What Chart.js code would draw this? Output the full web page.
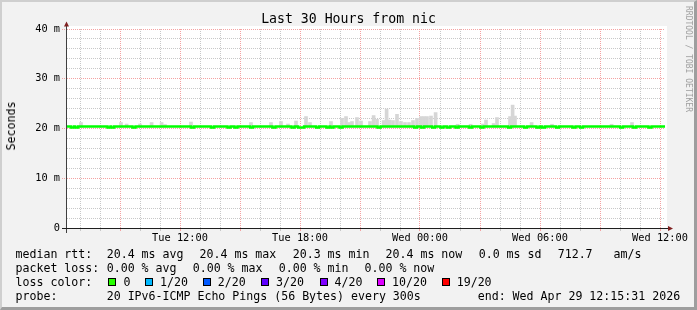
<!DOCTYPE html>
<html>
<head>
<meta charset="utf-8">
<script src="https://cdn.jsdelivr.net/npm/chart.js@4.4.1/dist/chart.umd.min.js"></script>
<style>
  html, body { margin: 0; padding: 0; }
  body {
    width: 697px; height: 310px; position: relative; overflow: hidden;
    background: #f2f2f2; color: #000;
    font-family: "DejaVu Sans Mono", monospace;
  }
  canvas { position: absolute; left: 0; top: 0; }
  #frame {
    position: absolute; left: 0; top: 0; width: 697px; height: 310px;
    box-sizing: border-box; pointer-events: none;
    border-style: solid; border-width: 2px 3px 3px 2px;
    border-color: #cfcfcf #9e9e9e #9e9e9e #cfcfcf;
  }
  .t { position: absolute; white-space: pre; line-height: 14px; }
  .lg { font-size: 11.6px; }
  .box {
    position: absolute; width: 6px; height: 6px; border: 1px solid #000;
  }
  #title { left: 0; width: 697px; top: 11px; text-align: center; font-size: 13.2px; line-height: 16px; }
  #ylabel { left: 11px; top: 126px; font-size: 11.6px; transform: translate(-50%, -50%) rotate(-90deg); }
  #credit { left: 688px; top: 59px; font-size: 8px; color: #a0a0a0; transform: translate(-50%, -50%) rotate(90deg); }
</style>
</head>
<body>
<canvas id="chart" width="697" height="310"></canvas>

<div class="t" id="title">Last 30 Hours from nic</div>
<div class="t" id="ylabel">Seconds</div>
<div class="t" id="credit">RRDTOOL / TOBI OETIKER</div>

<div class="t lg" style="left:15.5px;top:247px">median rtt:</div>
<div class="t lg" style="left:106.7px;top:247px">20.4 ms avg</div>
<div class="t lg" style="left:199.5px;top:247px">20.4 ms max</div>
<div class="t lg" style="left:292.7px;top:247px">20.3 ms min</div>
<div class="t lg" style="left:385.5px;top:247px">20.4 ms now</div>
<div class="t lg" style="left:478.7px;top:247px">0.0 ms sd</div>
<div class="t lg" style="left:557.7px;top:247px">712.7</div>
<div class="t lg" style="left:613.5px;top:247px">am/s</div>

<div class="t lg" style="left:15.5px;top:261px">packet loss:</div>
<div class="t lg" style="left:106.7px;top:261px">0.00 % avg</div>
<div class="t lg" style="left:192.7px;top:261px">0.00 % max</div>
<div class="t lg" style="left:278.7px;top:261px">0.00 % min</div>
<div class="t lg" style="left:364.5px;top:261px">0.00 % now</div>

<div class="t lg" style="left:15.5px;top:275px">loss color:</div>
<div id="lossLegend"></div>

<div class="t lg" style="left:15.5px;top:289px">probe:</div>
<div class="t lg" style="left:106.7px;top:289px">20 IPv6-ICMP Echo Pings (56 Bytes) every 300s</div>
<div class="t lg" style="left:477.7px;top:289px">end: Wed Apr 29 12:15:31 2026</div>

<div id="frame"></div>

<script>
// time axis: hours since Tue 00:00
const xMin = 6.35;
const xMax = 36.25;
const xTickHours = [12, 18, 24, 30, 36];
const xTickLabels = ["Tue 12:00", "Tue 18:00", "Wed 00:00", "Wed 06:00", "Wed 12:00"];

const yTickValues = [0, 10, 20, 30, 40];
const yTickLabels = ["0", "10 m", "20 m", "30 m", "40 m"];

// median rtt (ms) and short dips of the median line
const medianRtt = 20.4;
const dipRtt = 20.2;
const dipTimes = [6.63, 6.83, 8.45, 8.63, 9.7, 12.63, 13.63, 14.45, 14.8, 15.58,
    16.7, 17.65, 17.98, 18.13, 18.88, 19.4, 19.6, 20.05, 21.95, 23.78,
    24.13, 24.68, 25.1, 25.43, 25.85, 26.53, 27.1, 28.48, 29.28, 29.9,
    30.18, 30.88, 31.7, 32.08, 34.08, 34.73, 35.5];

// smoke (max of the pings, ms)
const smokeBase = 20.3;
const smokeTimes = [7.05, 9.05, 9.33, 10.0, 10.58, 11.08, 11.25, 12.55, 15.55, 16.55,
    17.05, 17.4, 17.8, 18.3, 18.5, 19.55, 20.1, 20.3, 20.45, 20.6,
    20.85, 21.05, 21.5, 21.68, 21.85, 22.18, 22.33, 22.48, 22.65, 22.85,
    23.05, 23.25, 23.45, 23.65, 23.85, 24.05, 24.2, 24.35, 24.55, 24.78,
    25.88, 26.53, 27.15, 27.3, 27.68, 27.85, 28.5, 28.63, 28.75, 29.58,
    30.6, 33.58, 34.6];
const smokeTops = [21.2, 21.2, 20.9, 20.9, 21.2, 21.2, 20.8, 21.3, 21.2, 21.2,
    21.4, 20.9, 21.5, 22.4, 21.2, 21.4, 22.05, 22.4, 21.2, 21.4,
    22.2, 21.5, 21.4, 22.6, 21.85, 21.6, 23.9, 21.7, 21.6, 22.85,
    21.4, 21.2, 21.2, 21.6, 22.05, 22.4, 22.4, 22.4, 22.5, 23.2,
    20.85, 20.85, 20.9, 21.7, 21.0, 22.2, 22.4, 24.7, 22.5, 21.2,
    20.85, 20.85, 21.2];

const lossLabels = ["0", "1/20", "2/20", "3/20", "4/20", "10/20", "19/20"];
const lossColors = ["#26ff00", "#00b8ff", "#0059ff", "#5e00ff", "#7e00ff", "#dd00ff", "#ff0000"];
const lossBoxX = [108, 145, 203, 261, 319.5, 377, 441.5];
const lossTextX = [123.5, 160, 217.7, 276, 334.5, 392, 456.7];

const lossDiv = document.getElementById("lossLegend");
lossLabels.forEach((lbl, i) => {
    const b = document.createElement("div");
    b.className = "box";
    b.style.left = lossBoxX[i] + "px";
    b.style.top = "278px";
    b.style.background = lossColors[i];
    lossDiv.appendChild(b);
    const t = document.createElement("div");
    t.className = "t lg";
    t.style.left = lossTextX[i] + "px";
    t.style.top = "275px";
    t.textContent = lbl;
    lossDiv.appendChild(t);
});

const linePoints = [{ x: xMin, y: medianRtt }];
dipTimes.forEach(d => {
    linePoints.push({ x: d - 0.075, y: dipRtt });
    linePoints.push({ x: d + 0.075, y: medianRtt });
});
linePoints.push({ x: xMax, y: medianRtt });

const smokePoints = smokeTimes.map((t, i) => ({ x: t, y: [smokeBase, smokeTops[i]] }));

const MAJOR = "#f4a2a2";
const MINOR = "#c8c8c8";
const axisFont = { family: "DejaVu Sans Mono", size: 10.3 };

const isMajorX = v => Math.abs(v - Math.round(v)) < 1e-6 && Math.round(v) % 3 === 0;
const isMajorY = v => Math.abs(v - Math.round(v)) < 1e-6 && Math.round(v) % 10 === 0;

const frame = {
    id: "frame",
    beforeDraw(chart) {
        const c = chart.ctx;
        const a = chart.chartArea;
        c.save();
        c.fillStyle = "#ffffff";
        c.fillRect(a.left, 26, a.right - a.left + 2, a.bottom - 26);
        c.restore();
    },
    afterDatasetsDraw(chart) {
        const c = chart.ctx;
        const a = chart.chartArea;
        c.save();
        c.lineWidth = 1;
        // y axis
        c.strokeStyle = "#404040";
        c.beginPath();
        c.moveTo(66.5, a.bottom + 5);
        c.lineTo(66.5, 25);
        c.stroke();
        // x axis
        c.strokeStyle = "#1f1f1f";
        c.beginPath();
        c.moveTo(62, a.bottom + 0.5);
        c.lineTo(668, a.bottom + 0.5);
        c.stroke();
        // arrows
        c.fillStyle = "#802020";
        c.beginPath();
        c.moveTo(64, 26.5); c.lineTo(69, 26.5); c.lineTo(66.5, 21.5);
        c.closePath(); c.fill();
        c.beginPath();
        c.moveTo(668, a.bottom - 2); c.lineTo(668, a.bottom + 3); c.lineTo(673, a.bottom + 0.5);
        c.closePath(); c.fill();
        c.restore();
    }
};

new Chart(document.getElementById("chart"), {
    type: "line",
    data: {
        datasets: [
            {
                type: "bar",
                label: "smoke",
                data: smokePoints,
                backgroundColor: "#d6d6d6",
                borderWidth: 0,
                barThickness: 3,
                grouped: false,
                order: 2
            },
            {
                type: "line",
                label: "median rtt",
                data: linePoints,
                borderColor: "#00ff00",
                borderWidth: 2.5,
                stepped: true,
                pointRadius: 0,
                fill: false,
                order: 1
            }
        ]
    },
    options: {
        responsive: false,
        animation: false,
        devicePixelRatio: 1,
        events: [],
        layout: { padding: { top: 29, right: 32, bottom: 62, left: 0 } },
        plugins: { legend: { display: false }, tooltip: { enabled: false }, title: { display: false } },
        scales: {
            x: {
                type: "linear",
                min: xMin,
                max: xMax,
                offset: false,
                afterFit(s) { s.height = 20; },
                ticks: {
                    stepSize: 1,
                    includeBounds: false,
                    autoSkip: false,
                    maxRotation: 0,
                    minRotation: 0,
                    padding: 1,
                    color: "#000",
                    font: axisFont,
                    callback: v => {
                        const i = xTickHours.indexOf(Math.round(v));
                        return (i >= 0 && Math.abs(v - Math.round(v)) < 1e-6) ? xTickLabels[i] : "";
                    }
                },
                grid: {
                    offset: false,
                    color: c => (c.tick && isMajorX(c.tick.value)) ? MAJOR : MINOR,
                    tickColor: c => (c.tick && isMajorX(c.tick.value)) ? MAJOR : MINOR,
                    tickLength: 3,
                    tickBorderDash: [],
                    lineWidth: 1
                },
                border: { display: false, dash: [1, 1] }
            },
            y: {
                min: 0,
                max: 40,
                afterFit(s) { s.width = 67; },
                ticks: {
                    stepSize: 2,
                    autoSkip: false,
                    padding: 2,
                    color: "#000",
                    font: axisFont,
                    callback: v => {
                        const i = yTickValues.indexOf(Math.round(v));
                        return (i >= 0 && Math.abs(v - Math.round(v)) < 1e-6) ? yTickLabels[i] : "";
                    }
                },
                grid: {
                    color: c => (c.tick && isMajorY(c.tick.value)) ? MAJOR : MINOR,
                    tickColor: c => (c.tick && isMajorY(c.tick.value)) ? MAJOR : "rgba(0,0,0,0)",
                    tickLength: 5,
                    tickBorderDash: [1, 1],
                    lineWidth: 1
                },
                border: { display: false, dash: [1, 1] }
            }
        }
    },
    plugins: [frame]
});
</script>
</body>
</html>
